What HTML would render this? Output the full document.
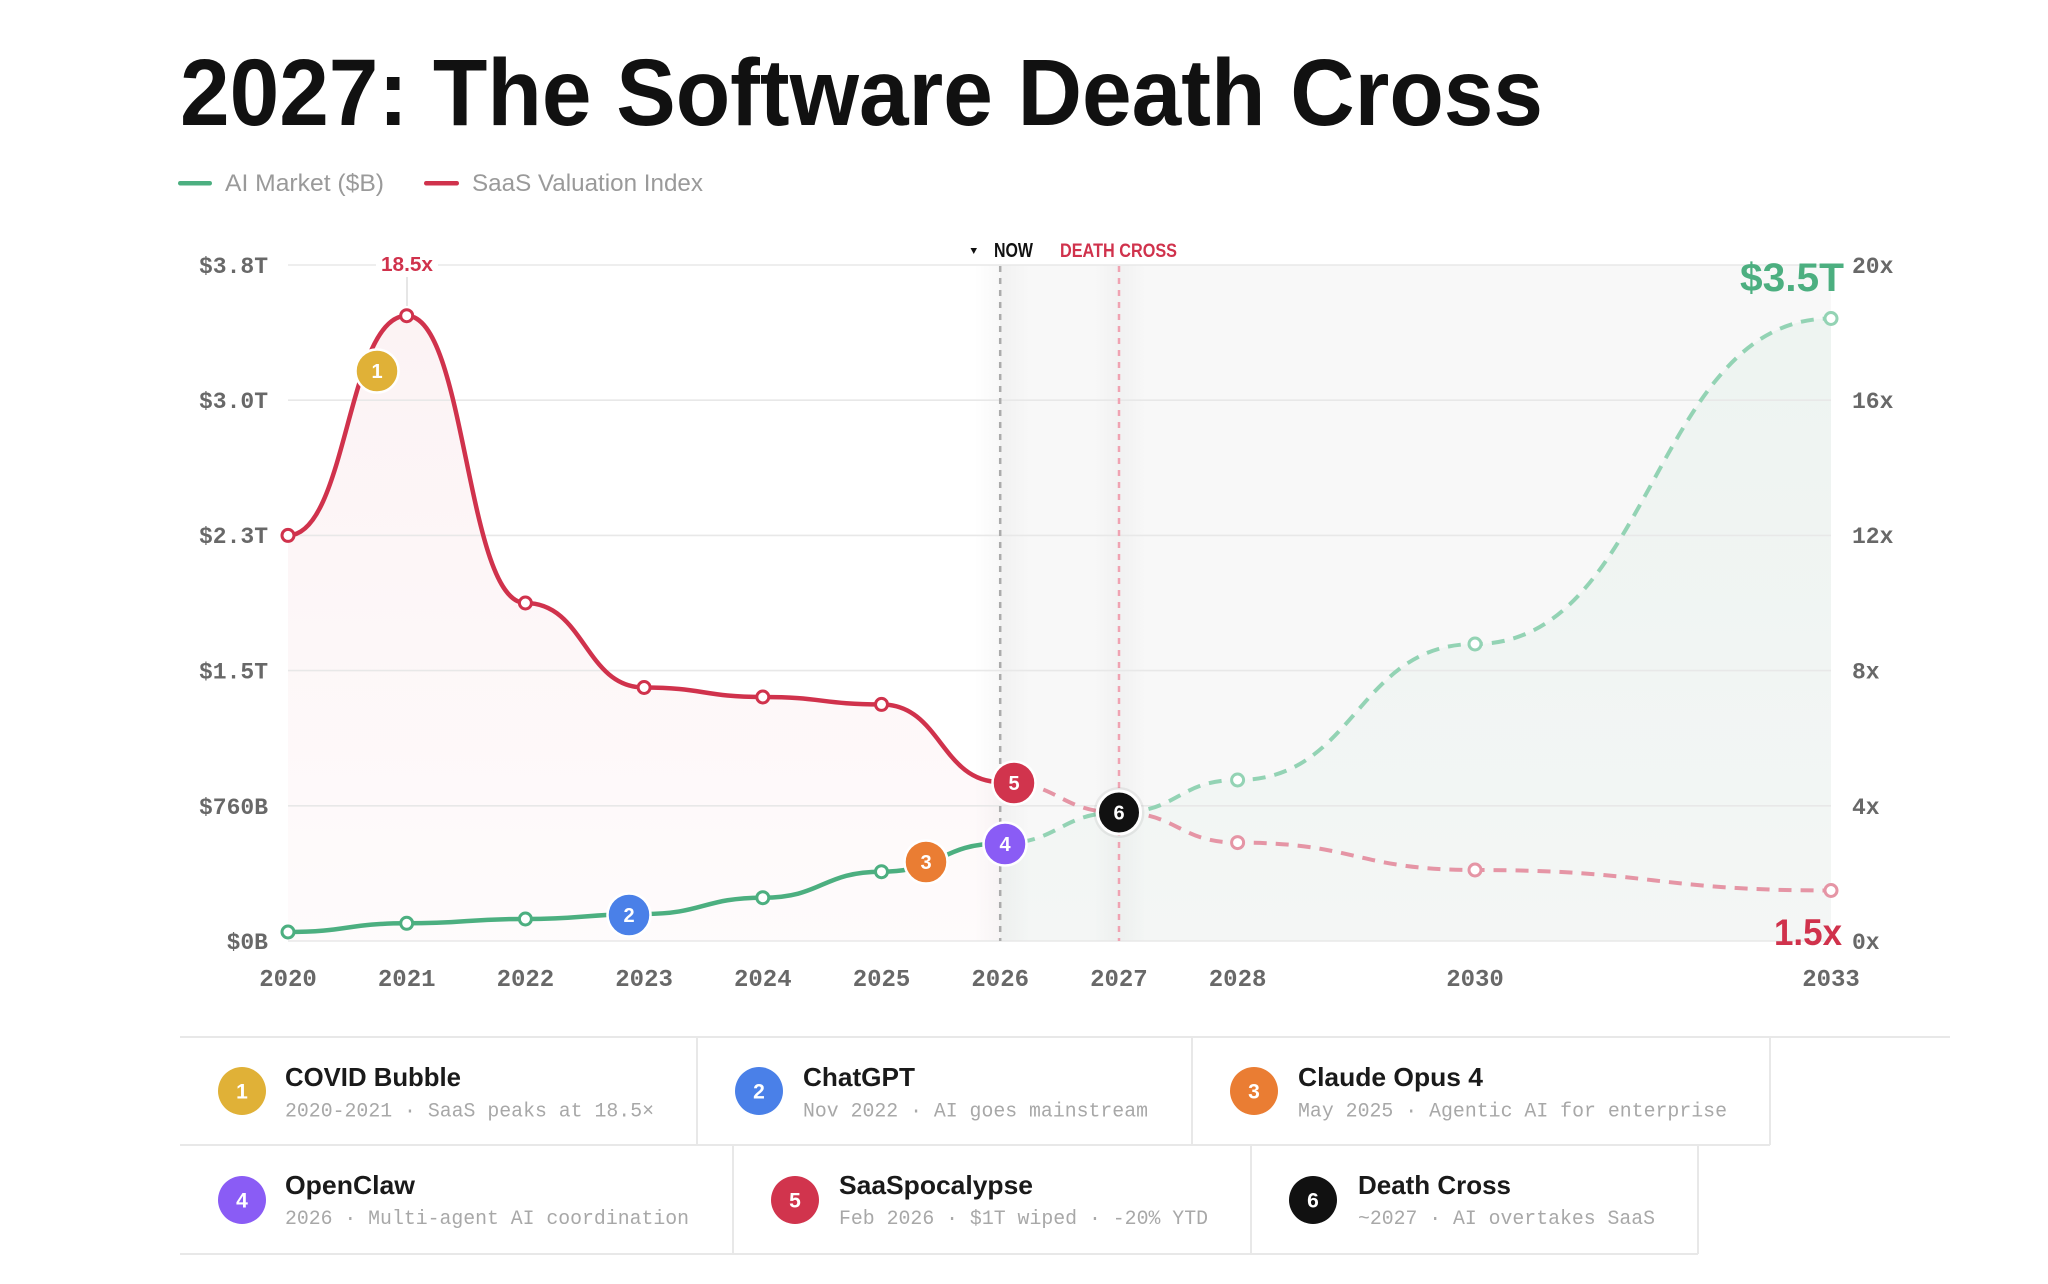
<!DOCTYPE html>
<html>
<head>
<meta charset="utf-8">
<style>
  html, body { margin: 0; padding: 0; background: #ffffff; }
  body { width: 2048px; height: 1284px; overflow: hidden; }
  svg { display: block; }
  .tick { font-family: "Liberation Mono", "DejaVu Sans Mono", monospace; font-weight: bold; fill: #686868; }
  .sans { font-family: "Liberation Sans", "DejaVu Sans", sans-serif; }
  .mono { font-family: "Liberation Mono", "DejaVu Sans Mono", monospace; }
</style>
</head>
<body>
<svg width="2048" height="1284" viewBox="0 0 2048 1284" xmlns="http://www.w3.org/2000/svg">
  <defs>
    <linearGradient id="pinkFill" x1="0" y1="0" x2="0" y2="1">
      <stop offset="0" stop-color="#d0324c" stop-opacity="0.06"/>
      <stop offset="1" stop-color="#d0324c" stop-opacity="0.02"/>
    </linearGradient>
    <linearGradient id="greenFill" x1="0" y1="0" x2="0" y2="1">
      <stop offset="0" stop-color="#4caf80" stop-opacity="0.06"/>
      <stop offset="1" stop-color="#4caf80" stop-opacity="0.025"/>
    </linearGradient>
    <linearGradient id="band" x1="0" y1="0" x2="1" y2="0">
      <stop offset="0" stop-color="#000" stop-opacity="0"/>
      <stop offset="0.45" stop-color="#000" stop-opacity="0.025"/>
      <stop offset="0.55" stop-color="#000" stop-opacity="0.025"/>
      <stop offset="1" stop-color="#000" stop-opacity="0"/>
    </linearGradient>
  </defs>

  <!-- Title -->
  <text class="sans" x="180" y="125" font-size="95" font-weight="bold" fill="#111111" textLength="1363" lengthAdjust="spacingAndGlyphs">2027: The Software Death Cross</text>

  <!-- Legend -->
  <rect x="178" y="181" width="34" height="4.5" rx="2.2" fill="#4caf80"/>
  <text class="sans" x="225" y="191" font-size="24" fill="#9a9a9a" textLength="159" lengthAdjust="spacingAndGlyphs">AI Market ($B)</text>
  <rect x="424" y="181" width="35" height="4.5" rx="2.2" fill="#d0324c"/>
  <text class="sans" x="472" y="191" font-size="24" fill="#9a9a9a" textLength="231" lengthAdjust="spacingAndGlyphs">SaaS Valuation Index</text>

  <!-- Future region shading -->
  <rect x="1000" y="265" width="831" height="676" fill="#f8f8f8"/>
  <rect x="974" y="265" width="56" height="676" fill="url(#band)"/>
  <rect x="1094" y="265" width="52" height="676" fill="url(#band)"/>

  <!-- Fills -->
  <path d="M288,535.4 C347.35,535.4 347.35,315.7 406.7,315.7 C466.05,315.7 466.05,603 525.4,603 C584.75,603 584.75,687.5 644.1,687.5 C703.45,687.5 703.45,697 762.8,697 C822.15,697 822.15,704.4 881.5,704.4 C940.85,704.4 940.85,782 1000.2,782 L1000.2,941 L288,941 Z" fill="url(#pinkFill)"/>
  <path d="M1000.2,843.5 C1059.55,843.5 1059.55,812.5 1118.9,812.5 C1178.25,812.5 1178.25,780 1237.6,780 C1356.3,780 1356.3,644 1475,644 C1653,644 1653,318.5 1831,318.5 L1831,941 L1000.2,941 Z" fill="url(#greenFill)"/>

  <!-- Gridlines -->
  <g stroke="#e8e8e8" stroke-width="1.6">
    <line x1="288" y1="265" x2="1831" y2="265"/>
    <line x1="288" y1="400.2" x2="1831" y2="400.2"/>
    <line x1="288" y1="535.4" x2="1831" y2="535.4"/>
    <line x1="288" y1="670.6" x2="1831" y2="670.6"/>
    <line x1="288" y1="805.8" x2="1831" y2="805.8"/>
    <line x1="288" y1="941" x2="1831" y2="941"/>
  </g>

  <!-- Vertical markers -->
  <line x1="1000.2" y1="266" x2="1000.2" y2="941" stroke="#ababab" stroke-width="2.5" stroke-dasharray="6 6"/>
  <line x1="1119" y1="266" x2="1119" y2="941" stroke="#f0a3b2" stroke-width="2.5" stroke-dasharray="6 6"/>

  <!-- Peak annotation -->
  <line x1="407" y1="277" x2="407" y2="306" stroke="#dddddd" stroke-width="1.5"/>
  <rect x="376" y="252" width="62" height="24" fill="#ffffff"/>
  <text class="sans" x="407" y="271" font-size="20" font-weight="bold" fill="#d0324c" text-anchor="middle" textLength="52" lengthAdjust="spacingAndGlyphs">18.5x</text>

  <!-- NOW / DEATH CROSS labels -->
  <polygon points="970.5,248 977,248 973.75,254" fill="#111111"/>
  <text class="sans" x="994" y="257" font-size="20" font-weight="bold" fill="#111111" textLength="39" lengthAdjust="spacingAndGlyphs">NOW</text>
  <text class="sans" x="1060" y="257" font-size="19" font-weight="bold" fill="#d0324c" textLength="117" lengthAdjust="spacingAndGlyphs">DEATH CROSS</text>

  <!-- Series lines -->
  <path d="M288,535.4 C347.35,535.4 347.35,315.7 406.7,315.7 C466.05,315.7 466.05,603 525.4,603 C584.75,603 584.75,687.5 644.1,687.5 C703.45,687.5 703.45,697 762.8,697 C822.15,697 822.15,704.4 881.5,704.4 C940.85,704.4 940.85,782 1000.2,782" fill="none" stroke="#d0324c" stroke-width="4.5" stroke-linecap="round"/>
  <path d="M1000.2,782 C1059.55,782 1059.55,812.5 1118.9,812.5 C1178.25,812.5 1178.25,842.6 1237.6,842.6 C1356.3,842.6 1356.3,870 1475,870 C1653,870 1653,890.5 1831,890.5" fill="none" stroke="#e595a5" stroke-width="4" stroke-dasharray="13 9"/>
  <path d="M288,932 C347.35,932 347.35,923.3 406.7,923.3 C466.05,923.3 466.05,919 525.4,919 C584.75,919 584.75,914 644.1,914 C703.45,914 703.45,897.7 762.8,897.7 C822.15,897.7 822.15,871.7 881.5,871.7 C940.85,871.7 940.85,843.5 1000.2,843.5" fill="none" stroke="#4caf80" stroke-width="4.5" stroke-linecap="round"/>
  <path d="M1000.2,843.5 C1059.55,843.5 1059.55,812.5 1118.9,812.5 C1178.25,812.5 1178.25,780 1237.6,780 C1356.3,780 1356.3,644 1475,644 C1653,644 1653,318.5 1831,318.5" fill="none" stroke="#93d3b4" stroke-width="4" stroke-dasharray="13 9"/>

  <!-- Data points -->
  <g fill="#ffffff" stroke="#d0324c" stroke-width="3">
    <circle cx="288" cy="535.4" r="6"/>
    <circle cx="406.7" cy="315.7" r="6"/>
    <circle cx="525.4" cy="603" r="6"/>
    <circle cx="644.1" cy="687.5" r="6"/>
    <circle cx="762.8" cy="697" r="6"/>
    <circle cx="881.5" cy="704.4" r="6"/>
  </g>
  <g fill="#ffffff" stroke="#e595a5" stroke-width="3">
    <circle cx="1237.6" cy="842.6" r="6"/>
    <circle cx="1475" cy="870" r="6"/>
    <circle cx="1831" cy="890.5" r="6"/>
  </g>
  <g fill="#ffffff" stroke="#4caf80" stroke-width="3">
    <circle cx="288" cy="932" r="6"/>
    <circle cx="406.7" cy="923.3" r="6"/>
    <circle cx="525.4" cy="919" r="6"/>
    <circle cx="762.8" cy="897.7" r="6"/>
    <circle cx="881.5" cy="871.7" r="6"/>
  </g>
  <g fill="#ffffff" stroke="#93d3b4" stroke-width="3">
    <circle cx="1237.6" cy="780" r="6"/>
    <circle cx="1475" cy="644" r="6"/>
    <circle cx="1831" cy="318.5" r="6"/>
  </g>

  <!-- Chart badges -->
  <g class="sans" font-size="20" font-weight="bold" fill="#ffffff" text-anchor="middle">
    <circle cx="377" cy="371" r="21.5" fill="#e0b137" stroke="#ffffff" stroke-width="2.5"/>
    <text x="377" y="378">1</text>
    <circle cx="629" cy="915" r="21.5" fill="#4a80e8" stroke="#ffffff" stroke-width="2.5"/>
    <text x="629" y="922">2</text>
    <circle cx="926" cy="862" r="21.5" fill="#ea7d33" stroke="#ffffff" stroke-width="2.5"/>
    <text x="926" y="869">3</text>
    <circle cx="1005" cy="844" r="21.5" fill="#8a5cf5" stroke="#ffffff" stroke-width="2.5"/>
    <text x="1005" y="851">4</text>
    <circle cx="1014" cy="783" r="21.5" fill="#d1344d" stroke="#ffffff" stroke-width="2.5"/>
    <text x="1014" y="790">5</text>
    <circle cx="1119" cy="812.5" r="25.5" fill="#000000" fill-opacity="0.06"/>
    <circle cx="1119" cy="812.5" r="21.5" fill="#111111" stroke="#ffffff" stroke-width="3"/>
    <text x="1119" y="819.5">6</text>
  </g>

  <!-- End labels -->
  <text class="sans" x="1844" y="291" font-size="40" font-weight="bold" fill="#4caf80" text-anchor="end" textLength="104" lengthAdjust="spacingAndGlyphs">$3.5T</text>
  <text class="sans" x="1842" y="945" font-size="37" font-weight="bold" fill="#d0324c" text-anchor="end" textLength="68" lengthAdjust="spacingAndGlyphs">1.5x</text>

  <!-- Left axis -->
  <g class="tick" font-size="23" text-anchor="end">
    <text x="268" y="273">$3.8T</text>
    <text x="268" y="408">$3.0T</text>
    <text x="268" y="543">$2.3T</text>
    <text x="268" y="678.5">$1.5T</text>
    <text x="268" y="814">$760B</text>
    <text x="268" y="949">$0B</text>
  </g>
  <!-- Right axis -->
  <g class="tick" font-size="23" text-anchor="start">
    <text x="1852" y="273">20x</text>
    <text x="1852" y="408">16x</text>
    <text x="1852" y="543">12x</text>
    <text x="1852" y="678.5">8x</text>
    <text x="1852" y="814">4x</text>
    <text x="1852" y="949">0x</text>
  </g>
  <!-- X axis -->
  <g class="tick" font-size="24" text-anchor="middle">
    <text x="288" y="986">2020</text>
    <text x="406.7" y="986">2021</text>
    <text x="525.4" y="986">2022</text>
    <text x="644.1" y="986">2023</text>
    <text x="762.8" y="986">2024</text>
    <text x="881.5" y="986">2025</text>
    <text x="1000.2" y="986">2026</text>
    <text x="1118.9" y="986">2027</text>
    <text x="1237.6" y="986">2028</text>
    <text x="1475" y="986">2030</text>
    <text x="1831" y="986">2033</text>
  </g>

  <!-- Cards grid borders -->
  <g stroke="#e8e8e8" stroke-width="2" fill="none">
    <line x1="180" y1="1037" x2="1950" y2="1037"/>
    <line x1="180" y1="1145" x2="1770" y2="1145"/>
    <line x1="697" y1="1037" x2="697" y2="1145"/>
    <line x1="1192" y1="1037" x2="1192" y2="1145"/>
    <line x1="1770" y1="1037" x2="1770" y2="1145"/>
    <line x1="180" y1="1254" x2="1698" y2="1254"/>
    <line x1="733" y1="1145" x2="733" y2="1254"/>
    <line x1="1251" y1="1145" x2="1251" y2="1254"/>
    <line x1="1698" y1="1145" x2="1698" y2="1254"/>
  </g>

  <!-- Card badges -->
  <g class="sans" font-size="21" font-weight="bold" fill="#ffffff" text-anchor="middle">
    <circle cx="242" cy="1091" r="24" fill="#e0b137"/>
    <text x="242" y="1098.5">1</text>
    <circle cx="759" cy="1091" r="24" fill="#4a80e8"/>
    <text x="759" y="1098.5">2</text>
    <circle cx="1254" cy="1091" r="24" fill="#ea7d33"/>
    <text x="1254" y="1098.5">3</text>
    <circle cx="242" cy="1200" r="24" fill="#8a5cf5"/>
    <text x="242" y="1207.5">4</text>
    <circle cx="795" cy="1200" r="24" fill="#d1344d"/>
    <text x="795" y="1207.5">5</text>
    <circle cx="1313" cy="1200" r="24" fill="#111111"/>
    <text x="1313" y="1207.5">6</text>
  </g>

  <!-- Card titles -->
  <g class="sans" font-size="26" font-weight="bold" fill="#1a1a1a">
    <text x="285" y="1086" textLength="176" lengthAdjust="spacingAndGlyphs">COVID Bubble</text>
    <text x="803" y="1086" textLength="112" lengthAdjust="spacingAndGlyphs">ChatGPT</text>
    <text x="1298" y="1086" textLength="185" lengthAdjust="spacingAndGlyphs">Claude Opus 4</text>
    <text x="285" y="1194" textLength="130" lengthAdjust="spacingAndGlyphs">OpenClaw</text>
    <text x="839" y="1194" textLength="194" lengthAdjust="spacingAndGlyphs">SaaSpocalypse</text>
    <text x="1358" y="1194" textLength="153" lengthAdjust="spacingAndGlyphs">Death Cross</text>
  </g>

  <!-- Card subtitles -->
  <g class="mono" font-size="20" fill="#a8a8a8">
    <text x="285" y="1116.5" textLength="369" lengthAdjust="spacingAndGlyphs">2020-2021 · SaaS peaks at 18.5×</text>
    <text x="803" y="1116.5" textLength="345" lengthAdjust="spacingAndGlyphs">Nov 2022 · AI goes mainstream</text>
    <text x="1298" y="1116.5" textLength="429" lengthAdjust="spacingAndGlyphs">May 2025 · Agentic AI for enterprise</text>
    <text x="285" y="1224" textLength="404" lengthAdjust="spacingAndGlyphs">2026 · Multi-agent AI coordination</text>
    <text x="839" y="1224" textLength="369" lengthAdjust="spacingAndGlyphs">Feb 2026 · $1T wiped · -20% YTD</text>
    <text x="1358" y="1224" textLength="297" lengthAdjust="spacingAndGlyphs">~2027 · AI overtakes SaaS</text>
  </g>
</svg>
</body>
</html>
